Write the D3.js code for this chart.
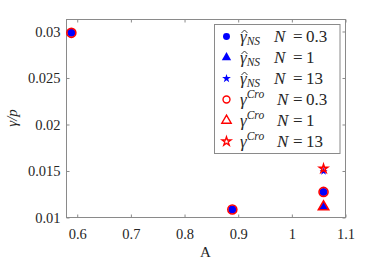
<!DOCTYPE html>
<html><head><meta charset="utf-8">
<script src="https://cdn.jsdelivr.net/npm/d3@7"></script>
<style>body{margin:0;background:#fff;} svg{display:block;} text{font-family:"Liberation Serif","DejaVu Serif","Noto Serif","Times New Roman",serif;}</style>
</head><body>
<svg id="c" width="382" height="263"></svg>
<script>
const xValues = [0.59, 0.89, 1.06];
const gammaNS_N03 = [0.0298, 0.0108, 0.0127];
const gammaNS_N1 = [null, null, 0.0111];
const gammaNS_N13 = [null, null, 0.0149];
const gammaCro_N03 = [0.0298, 0.0108, 0.0127];
const gammaCro_N1 = [null, null, 0.0111];
const gammaCro_N13 = [null, null, 0.0152];
const xTicks = [0.6, 0.7, 0.8, 0.9, 1, 1.1];
const yTicks = [0.01, 0.015, 0.02, 0.025, 0.03];
const legendNames = [
  {sym:"γ", hat:true, sub:"NS", sup:null, n:"0.3"},
  {sym:"γ", hat:true, sub:"NS", sup:null, n:"1"},
  {sym:"γ", hat:true, sub:"NS", sup:null, n:"13"},
  {sym:"γ", hat:false, sub:null, sup:"Cro", n:"0.3"},
  {sym:"γ", hat:false, sub:null, sup:"Cro", n:"1"},
  {sym:"γ", hat:false, sub:null, sup:"Cro", n:"13"}
];

const series = [
  {vals:gammaNS_N03, shape:"circle", color:"#0000ff", filled:true},
  {vals:gammaNS_N1, shape:"triangle", color:"#0000ff", filled:true},
  {vals:gammaNS_N13, shape:"star", color:"#0000ff", filled:true},
  {vals:gammaCro_N03, shape:"circle", color:"#ff0000", filled:false},
  {vals:gammaCro_N1, shape:"triangle", color:"#ff0000", filled:false},
  {vals:gammaCro_N13, shape:"star", color:"#ff0000", filled:false}
];

const svg = d3.select("#c");
const L = 66, R = 345, T = 19, B = 217;
const x = d3.scaleLinear().domain([0.58, 1.1]).range([L, R]);
const y = d3.scaleLinear().domain([0.01, 0.03129]).range([B, T]);
const axisColor = "#8a8a8a";
const textColor = "#262626";

svg.append("rect").attr("x", L+0.5).attr("y", T+0.5).attr("width", R-L).attr("height", B-T)
  .attr("fill", "none").attr("stroke", axisColor).attr("stroke-width", 1);

function styleTicks(g){
  g.attr("font-family", null);
  g.select(".domain").remove();
  g.selectAll("line").attr("stroke", axisColor);
  g.selectAll("text").attr("font-size", 14.5).attr("fill", textColor);
}
const xa = svg.append("g").attr("transform", `translate(0.5,${B+0.5})`)
  .call(d3.axisBottom(x).tickValues(xTicks).tickSize(-3).tickFormat(d3.format("")));
styleTicks(xa);
xa.selectAll("text").attr("dy", "1.3em");
const xt = svg.append("g").attr("transform", `translate(0.5,${T+0.5})`)
  .call(d3.axisTop(x).tickValues(xTicks).tickSize(-3).tickFormat(""));
styleTicks(xt);

const ya = svg.append("g").attr("transform", `translate(${L+0.5},0.5)`)
  .call(d3.axisLeft(y).tickValues(yTicks).tickSize(-3).tickFormat(d3.format("")));
styleTicks(ya);
ya.selectAll("text").attr("x", -6);
const yr = svg.append("g").attr("transform", `translate(${R+0.5},0.5)`)
  .call(d3.axisRight(y).tickValues(yTicks).tickSize(-3).tickFormat(""));
styleTicks(yr);

svg.append("text").attr("x", (L+R)/2).attr("y", 257).attr("text-anchor", "middle")
  .attr("font-size", 15).attr("fill", textColor).text("A");
svg.append("text").attr("transform", `translate(17,${(T+B)/2}) rotate(-90)`).attr("text-anchor", "middle")
  .attr("font-size", 15).attr("fill", textColor).attr("font-style", "italic")
  .text("γ/p");

function sym(shape, size){
  const t = shape === "circle" ? d3.symbolCircle : shape === "triangle" ? d3.symbolTriangle : d3.symbolStar;
  return d3.symbol().type(t).size(size)();
}
function sizeFor(s){ return s.shape === "circle" ? (s.filled ? 50 : 64) : s.shape === "triangle" ? (s.filled ? 40 : 46) : (s.filled ? 20 : 20); }

const plot = svg.append("g");
series.forEach(s => {
  s.vals.forEach((v, i) => {
    if (v == null) return;
    const p = plot.append("path").attr("d", sym(s.shape, sizeFor(s)))
      .attr("transform", `translate(${x(xValues[i])},${y(v)})`);
    if (s.filled) p.attr("fill", s.color);
    else p.attr("fill", "none").attr("stroke", s.color).attr("stroke-width", 1.6);
  });
});

const lg = svg.append("g");
lg.append("rect").attr("x", 214.5).attr("y", 24.5).attr("width", 125.5).attr("height", 129)
  .attr("fill", "#fff").attr("stroke", axisColor).attr("stroke-width", 1);
legendNames.forEach((d, i) => {
  const cy = 36.5 + i*21;
  const s = series[i];
  const sz = s.shape === "circle" ? 38 : s.shape === "triangle" ? 38 : 24;
  const p = lg.append("path").attr("d", sym(s.shape, sz))
    .attr("transform", `translate(226.5,${cy})`);
  if (s.filled) p.attr("fill", s.color);
  else p.attr("fill", "none").attr("stroke", s.color).attr("stroke-width", 1.4);
  const t = lg.append("text").attr("x", 240).attr("y", cy + 5.5)
    .attr("font-size", 17).attr("fill", textColor);
  t.append("tspan").attr("font-style", "italic").text(d.sym);
  if (d.hat) lg.append("path")
    .attr("d", `M${241.5},${cy-3.5} L${244.5},${cy-6.5} L${247.5},${cy-3.5}`)
    .attr("fill", "none").attr("stroke", textColor).attr("stroke-width", 0.9);
  if (d.sub) t.append("tspan").attr("font-style", "italic").attr("font-size", 11.5).attr("dy", 3).text(d.sub);
  if (d.sup) t.append("tspan").attr("font-style", "italic").attr("font-size", 11.5).attr("dy", -7).text(d.sup);
  t.append("tspan").attr("x", d.sub ? 274 : 277).attr("dy", d.sub ? -3 : 7).attr("font-style", "italic").text("N");
  t.append("tspan").attr("x", 293).text("=");
  t.append("tspan").attr("x", 306).text(d.n);
});
</script>
</body></html>
